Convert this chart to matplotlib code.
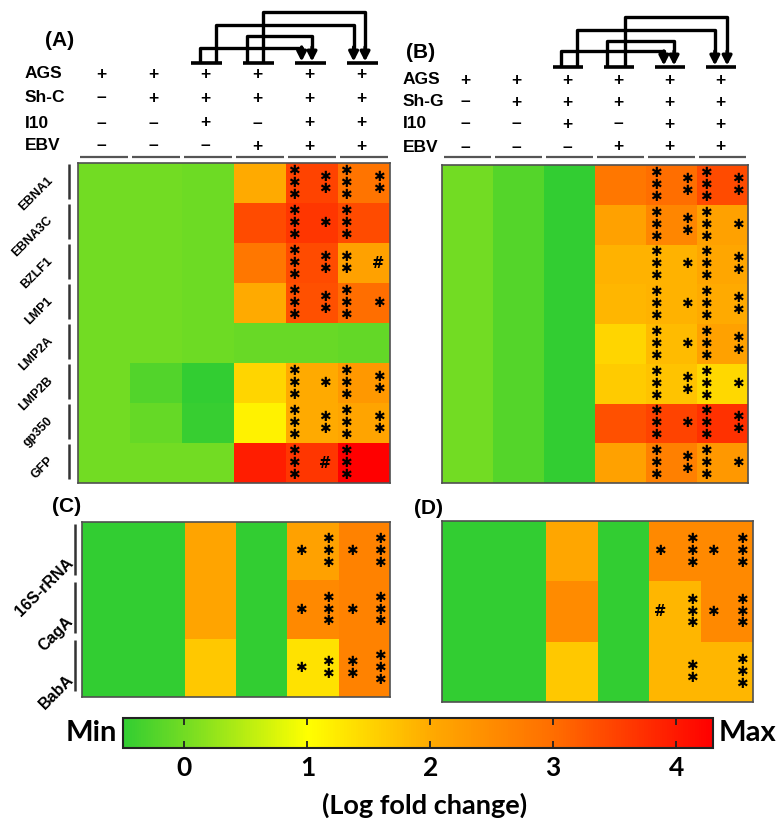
import numpy as np
import matplotlib
matplotlib.use("Agg")
import matplotlib.pyplot as plt
from matplotlib.colors import LinearSegmentedColormap, Normalize
from matplotlib.cm import ScalarMappable
import matplotlib.transforms as mtransforms

# ---------------- data ----------------
genes_A = ["EBNA1", "EBNA3C", "BZLF1", "LMP1", "LMP2A", "LMP2B", "gp350", "GFP"]
genes_C = ["16S-rRNA", "CagA", "BabA"]

# log fold change values (rows = genes, cols = 6 conditions)
vals_A = [
    [0.0, 0.0, -0.05, 2.0, 3.5, 2.9],
    [0.0, 0.0, -0.05, 3.4, 3.65, 3.4],
    [0.0, 0.0, -0.05, 2.85, 3.4, 2.15],
    [0.0, 0.0, -0.05, 2.0, 3.35, 3.0],
    [0.0, 0.0, -0.05, -0.07, -0.07, -0.12],
    [0.0, -0.25, -0.5, 1.5, 2.0, 2.3],
    [0.0, -0.1, -0.45, 1.15, 2.0, 2.1],
    [0.0, 0.0, 0.0, 3.95, 3.65, 4.3],
]
vals_B = [
    [0.0, -0.22, -0.5, 2.85, 3.0, 3.4],
    [0.0, -0.22, -0.5, 2.15, 2.6, 2.15],
    [0.0, -0.22, -0.5, 1.9, 1.9, 2.05],
    [0.0, -0.22, -0.5, 1.85, 1.9, 2.0],
    [0.0, -0.22, -0.5, 1.5, 1.8, 2.15],
    [0.0, -0.22, -0.5, 1.6, 1.7, 1.45],
    [0.0, -0.22, -0.5, 3.35, 3.5, 3.7],
    [0.0, -0.22, -0.5, 2.15, 2.7, 2.3],
]
vals_C = [
    [-0.5, -0.5, 2.1, -0.5, 2.15, 2.65],
    [-0.5, -0.5, 2.1, -0.5, 2.55, 2.65],
    [-0.5, -0.5, 1.65, -0.5, 1.35, 2.65],
]
vals_D = [
    [-0.5, -0.5, 2.05, -0.5, 2.55, 2.55],
    [-0.5, -0.5, 2.5, -0.5, 1.85, 2.55],
    [-0.5, -0.5, 1.65, -0.5, 1.85, 1.85],
]

# significance marks for columns 5 and 6: (col5 left, col5 right, col6 left, col6 right)
marks_A = [
    ["***", "**", "***", "**"],
    ["***", "*", "***", ""],
    ["***", "**", "**", "#"],
    ["***", "**", "***", "*"],
    ["", "", "", ""],
    ["***", "*", "***", "**"],
    ["***", "**", "***", "**"],
    ["***", "#", "***", ""],
]
marks_B = [
    ["***", "**", "***", "**"],
    ["***", "**", "***", "*"],
    ["***", "*", "***", "**"],
    ["***", "*", "***", "**"],
    ["***", "*", "***", "**"],
    ["***", "**", "***", "*"],
    ["***", "*", "***", "**"],
    ["***", "**", "***", "*"],
]
marks_C = [
    ["*", "***", "*", "***"],
    ["*", "***", "*", "***"],
    ["*", "**", "**", "***"],
]
marks_D = [
    ["*", "***", "*", "***"],
    ["#", "***", "*", "***"],
    ["", "**", "", "***"],
]

cond_names_A = ["AGS", "Sh-C", "I10", "EBV"]
cond_names_B = ["AGS", "Sh-G", "I10", "EBV"]
cond_signs = [
    ["+", "+", "+", "+", "+", "+"],
    ["–", "+", "+", "+", "+", "+"],
    ["–", "–", "+", "–", "+", "+"],
    ["–", "–", "–", "+", "+", "+"],
]
# comparisons: (from column, to column)
comparisons = [(2, 4), (2, 5), (3, 4), (3, 5)]

cbar_ticks = [0, 1, 2, 3, 4]
vmin, vmax = -0.5, 4.3

# ---------------- styling ----------------
W, H = 776, 818
fig = plt.figure(figsize=(W / 100, H / 100), dpi=100)
fig.patch.set_facecolor("white")

def rect(x0, y0, x1, y1):
    return [x0 / W, 1 - y1 / H, (x1 - x0) / W, (y1 - y0) / H]

def fy(ypx):
    return 1 - ypx / H

def fx(xpx):
    return xpx / W

anchor_vals = [-0.5, 0.0, 1.0, 2.0, 3.0, 4.3]
anchor_cols = [(50, 205, 50), (115, 220, 35), (255, 255, 0), (255, 170, 0), (255, 110, 0), (255, 0, 0)]
cmap = LinearSegmentedColormap.from_list(
    "gyr", [((v - vmin) / (vmax - vmin), tuple(c / 255 for c in col)) for v, col in zip(anchor_vals, anchor_cols)])
norm = Normalize(vmin=vmin, vmax=vmax)

axA = fig.add_axes(rect(78, 163, 390, 483))
axB = fig.add_axes(rect(442, 165, 748, 483))
axC = fig.add_axes(rect(82, 522, 390, 697))
axD = fig.add_axes(rect(442, 521, 753, 702))

BOLD = dict(family="Liberation Sans", weight="bold")

def heat(ax, vals):
    v = np.array(vals)
    ax.pcolormesh(np.arange(v.shape[1] + 1), np.arange(v.shape[0] + 1), v, cmap=cmap, norm=norm)
    ax.set_xlim(0, v.shape[1])
    ax.set_ylim(v.shape[0], 0)
    ax.set_xticks([])
    ax.set_yticks([])
    for s in ax.spines.values():
        s.set_color("#505050")
        s.set_linewidth(1.2)

def add_marks(ax, marks, fracs):
    for r, row in enumerate(marks):
        for j, s in enumerate(row):
            if not s:
                continue
            col = 4 + j // 2
            x = col + fracs[j]
            y = r + 0.5
            if s == "#":
                ax.text(x, y, "#", ha="center", va="center", fontsize=10.5,
                        family="DejaVu Sans", weight="bold", color="black")
                continue
            stack = "\n".join("✱" * len(s))
            ax.text(x, y, stack, ha="center", va="center", fontsize=10, linespacing=0.81,
                    family="DejaVu Sans", weight="bold", color="black")

for ax, vals in [(axA, vals_A), (axB, vals_B), (axC, vals_C), (axD, vals_D)]:
    heat(ax, vals)

add_marks(axA, marks_A, [0.16, 0.75, 0.16, 0.78])
add_marks(axB, marks_B, [0.2, 0.8, 0.18, 0.8])
add_marks(axC, marks_C, [0.27, 0.8, 0.25, 0.8])
add_marks(axD, marks_D, [0.2, 0.82, 0.22, 0.78])

# ---------------- header (conditions + brackets) ----------------
def header(ax, names, label_x, label_ys, sep_y, bar_y, heights, tgt_offs, src_offs):
    bt = mtransforms.blended_transform_factory(ax.transData, fig.transFigure)
    for name, yy in zip(names, label_ys):
        fig.text(fx(label_x), fy(yy), name, ha="left", va="center", fontsize=12.5, **BOLD)
    for signs, yy in zip(cond_signs, label_ys):
        for c, s in enumerate(signs):
            ax.text(c + 0.45, fy(yy), s, transform=bt, ha="center", va="center",
                    fontsize=12.5, **BOLD)
    for c in range(6):
        ax.plot([c + 0.03, c + 0.97], [fy(sep_y), fy(sep_y)], transform=bt,
                color="#555555", lw=1.6, clip_on=False, solid_capstyle="butt")
    for c in range(2, 6):
        ax.plot([c + 0.5 - 0.33, c + 0.5 + 0.27], [fy(bar_y), fy(bar_y)], transform=bt,
                color="black", lw=2.6, clip_on=False, solid_capstyle="butt")
    for (s, t), h, so, to in zip(comparisons, heights, src_offs, tgt_offs):
        xs = s + 0.5 + so
        xt = t + 0.5 + to
        ytop = fy(h)
        ystart = fy(bar_y - 1)
        ymid = fy(bar_y - 14)
        ax.plot([xs, xs, xt, xt], [ystart, ytop, ytop, ymid], transform=bt, color="black",
                lw=2.4, clip_on=False, solid_joinstyle="round", solid_capstyle="butt")
        ax.annotate("", xy=(xt, fy(bar_y - 1.5)), xycoords=bt, xytext=(xt, fy(bar_y - 16)),
                    textcoords=bt,
                    arrowprops=dict(arrowstyle="-|>,head_length=0.55,head_width=0.28",
                                    color="black", lw=2.4, shrinkA=0, shrinkB=0))

header(axA, cond_names_A, 25, [74, 98, 123, 146], 157, 63,
       [48, 25, 36, 12], [-0.2, -0.2, 0.0, 0.02], [-0.15, 0.15, -0.25, 0.06])
header(axB, cond_names_B, 403, [80, 102, 124, 147], 157, 67,
       [51, 30, 41, 17], [-0.15, -0.15, 0.05, 0.09], [-0.17, 0.15, -0.26, 0.09])

# panel letters
fig.text(fx(60), fy(41), "(A)", ha="center", va="center", fontsize=15, **BOLD)
fig.text(fx(421), fy(53), "(B)", ha="center", va="center", fontsize=15, **BOLD)
fig.text(fx(67), fy(506), "(C)", ha="center", va="center", fontsize=15, **BOLD)
fig.text(fx(428), fy(508), "(D)", ha="center", va="center", fontsize=15, **BOLD)

# ---------------- row labels ----------------
def row_labels(ax, names, bar_x, lab_x, dy_pts, fs):
    bt = mtransforms.blended_transform_factory(fig.transFigure, ax.transData)
    for r, name in enumerate(names):
        ax.plot([fx(bar_x), fx(bar_x)], [r + 0.03, r + 0.9], transform=bt, color="#333333",
                lw=1.8, clip_on=False, solid_capstyle="butt")
        ax.annotate(name, xy=(fx(lab_x), r + 0.5), xycoords=bt, xytext=(0, dy_pts),
                    textcoords="offset points", rotation=45, rotation_mode="anchor",
                    ha="right", va="center", fontsize=fs, **BOLD)

row_labels(axA, genes_A, 69, 51, 3, 9)
row_labels(axC, genes_C, 75, 71, -7, 11.5)

# ---------------- colorbar ----------------
cax = fig.add_axes(rect(123, 718, 713, 748))
sm = ScalarMappable(norm=norm, cmap=cmap)
cb = fig.colorbar(sm, cax=cax, orientation="horizontal", ticks=cbar_ticks)
cb.outline.set_linewidth(1.5)
cb.outline.set_edgecolor("#222222")
cax.tick_params(axis="x", direction="in", length=5, width=1.3, top=True, bottom=True,
                color="#222222", pad=6)
cax.set_xticklabels([str(t) for t in cbar_ticks], fontsize=19, family="Lato", weight="bold")
fig.text(fx(117), fy(733), "Min", ha="right", va="center", fontsize=21, family="Lato", weight="bold")
fig.text(fx(719), fy(733), "Max", ha="left", va="center", fontsize=21, family="Lato", weight="bold")
fig.text(fx(425), fy(805), "(Log fold change)", ha="center", va="center", fontsize=19.5,
         family="Lato", weight="bold")

fig.savefig("out.png", dpi=100)
